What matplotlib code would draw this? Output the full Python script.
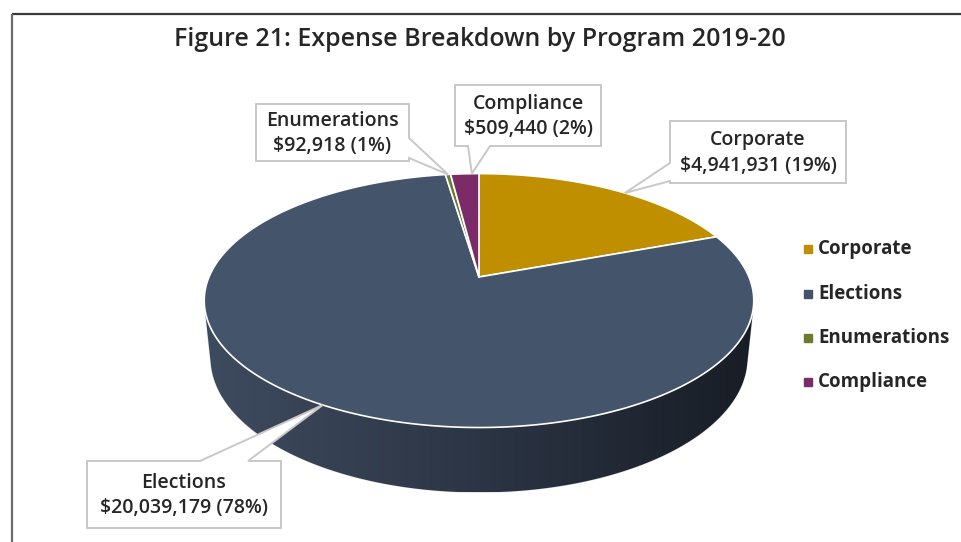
import numpy as np
import matplotlib
matplotlib.use("Agg")
import matplotlib.pyplot as plt
from matplotlib.patches import Polygon
from matplotlib.colors import LinearSegmentedColormap

# data
programs = ["Corporate", "Elections", "Enumerations", "Compliance"]
expenses = [4941931, 20039179, 92918, 509440]
pct_labels = ["19%", "78%", "1%", "2%"]
colors = ["#BF8F00", "#44546A", "#6B7D2C", "#7B2C68"]

plt.rcParams["font.family"] = ["Open Sans", "DejaVu Sans"]

fig = plt.figure(figsize=(9.61, 5.42), dpi=100)
ax = fig.add_axes([0, 0, 1, 1])
ax.set_xlim(0, 961)
ax.set_ylim(542, 0)
ax.axis("off")

# frame lines (top and left)
ax.plot([12, 961], [14, 14], color="#3a3a3a", lw=1.6, solid_capstyle="butt")
ax.plot([12, 12], [14, 542], color="#6a6a6a", lw=1.6, solid_capstyle="butt")

ax.text(480, 40, "Figure 21: Expense Breakdown by Program 2019-20", ha="center",
        va="center", fontsize=18, fontweight="semibold", color="#262626")

# 3D pie projection
cx, cy, R = 479, 277, 270
elev = np.radians(27)
D = 4.8
h = 0.24


def proj(theta, z=0.0, r=1.0):
    x = r * np.cos(theta)
    y = r * np.sin(theta)
    v = y * np.sin(elev) + z * np.cos(elev)
    w = y * np.cos(elev) - z * np.sin(elev)
    s = D / (D + w)
    return cx + R * x * s, cy - R * v * s


total = sum(expenses)
fracs = [e / total for e in expenses]
starts = []
a = np.pi / 2
for f in fracs:
    starts.append((a, a - f * 2 * np.pi))
    a -= f * 2 * np.pi

# side wall (front-facing part), shaded left to right
lim = np.arcsin(1 / (D * np.cos(elev)))
th = np.linspace(np.pi + lim, 2 * np.pi - lim, 240)
side = [proj(t, 0) for t in th] + [proj(t, -h) for t in th[::-1]]
side_patch = Polygon(side, closed=True, facecolor="none", edgecolor="#e6e6e6", lw=0.8)
ax.add_patch(side_patch)
xs = [p[0] for p in side]
ys = [p[1] for p in side]
cmap = LinearSegmentedColormap.from_list("side", ["#3e4b5f", "#2c3545", "#181d25"])
grad = np.linspace(0, 1, 256).reshape(1, -1)
im = ax.imshow(grad, cmap=cmap, extent=[min(xs), max(xs), max(ys), min(ys)],
               aspect="auto", zorder=1)
im.set_clip_path(side_patch)
ax.set_xlim(0, 961)
ax.set_ylim(542, 0)

# top face
for (a0, a1), col in zip(starts, colors):
    tt = np.linspace(a0, a1, max(int(abs(a1 - a0) / 0.01), 4))
    pts = [(cx, cy)] + [proj(t) for t in tt]
    ax.add_patch(Polygon(pts, closed=True, facecolor=col, edgecolor="white",
                         lw=1.2, joinstyle="round", zorder=2))

# callouts: box, pointer base on one edge, anchor on the pie
boxes = {
    "Corporate": (670, 121, 846, 183),
    "Elections": (87, 461, 281, 528),
    "Enumerations": (256, 104, 409, 161),
    "Compliance": (455, 85, 601, 146),
}
pointers = {
    "Corporate": ("left", 163, 181),
    "Elections": ("top", 200, 248),
    "Enumerations": ("right", 138, 158),
    "Compliance": ("bottom", 468, 490),
}
anchor_frac = {"Corporate": 0.55, "Elections": 0.63, "Enumerations": 0.5,
               "Compliance": 0.75}

for i, name in enumerate(programs):
    a0, a1 = starts[i]
    tm = a0 + (a1 - a0) * anchor_frac[name]
    if name == "Elections":
        ax_, ay_ = proj(np.radians(241))
    else:
        ax_, ay_ = proj(tm)
    x0, y0, x1, y1 = boxes[name]
    side_, p0, p1 = pointers[name]
    if side_ == "top":
        poly = [(x0, y0), (p0, y0), (ax_, ay_), (p1, y0), (x1, y0), (x1, y1), (x0, y1)]
    elif side_ == "bottom":
        poly = [(x0, y0), (x1, y0), (x1, y1), (p1, y1), (ax_, ay_), (p0, y1), (x0, y1)]
    elif side_ == "left":
        poly = [(x0, y0), (x1, y0), (x1, y1), (x0, y1), (x0, p1), (ax_, ay_), (x0, p0)]
    else:
        poly = [(x0, y0), (x1, y0), (x1, p0), (ax_, ay_), (x1, p1), (x1, y1), (x0, y1)]
    ax.add_patch(Polygon(poly, closed=True, facecolor="white", edgecolor="#c8c8c8",
                         lw=1.4, zorder=5))
    txt = "%s\n$%s (%s)" % (name, format(expenses[i], ","), pct_labels[i])
    ax.text((x0 + x1) / 2, (y0 + y1) / 2 + 1, txt, ha="center", va="center",
            fontsize=14, fontweight="semibold", color="#262626",
            linespacing=1.35, zorder=6)

# legend
leg_y = [249, 294, 338, 382]
for name, col, y in zip(programs, colors, leg_y):
    ax.plot(808, y, marker="s", ms=5.5, color=col, mec=col)
    ax.text(818, y, name, ha="left", va="center", fontsize=13.5,
            fontweight="bold", color="#262626")

fig.savefig("out.png", dpi=100)
